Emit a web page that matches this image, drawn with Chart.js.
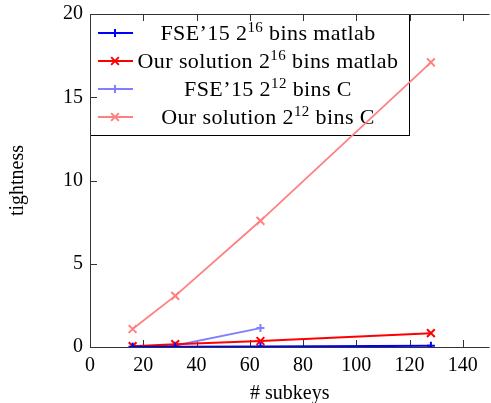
<!DOCTYPE html>
<html>
<head>
<meta charset="utf-8">
<script src="https://cdn.jsdelivr.net/npm/chart.js@4"></script>
<style>
  html, body { margin: 0; padding: 0; background: #fff; overflow: hidden; }
  #wrap { width: 497px; height: 403px; }
</style>
</head>
<body>
<div id="wrap"><canvas id="chart"></canvas></div>
<script>
// values
var subkeys = [16, 32, 64, 128];
var fseMatlab = [0.02, 0.02, 0.03, 0.07];
var oursMatlab = [0.05, 0.17, 0.36, 0.83];
var fseC = [0.02, 0.09, 1.14];          // C run stops at 64 subkeys
var oursC = [1.08, 3.07, 7.58, 17.1];
var seriesNames = [
    "FSE\u201915 2^16 bins matlab",
    "Our solution 2^16 bins matlab",
    "FSE\u201915 2^12 bins C",
    "Our solution 2^12 bins C"
];
var xTicks = [0, 20, 40, 60, 80, 100, 120, 140];
var yTicks = [0, 5, 10, 15, 20];

var serif = "'Liberation Serif', 'DejaVu Serif', serif";

function toPoints(ys) {
    return ys.map(function(y, i) { return { x: subkeys[i], y: y }; });
}

function makeSet(label, ys, color, style, width) {
    var r = style === 'cross' ? 4 : 5.5;
    return {
        label: label,
        data: toPoints(ys),
        borderColor: color,
        backgroundColor: color,
        borderWidth: width,
        pointStyle: style,
        pointRadius: r,
        pointBorderWidth: 2,
        pointHoverRadius: r,
        tension: 0,
        fill: false
    };
}

function drawMarker(ctx, style, x, y, r) {
    ctx.beginPath();
    if (style === 'cross') {
        ctx.moveTo(x - r, y); ctx.lineTo(x + r, y);
        ctx.moveTo(x, y - r); ctx.lineTo(x, y + r);
    } else {
        var d = r * 0.7;
        ctx.moveTo(x - d, y - d); ctx.lineTo(x + d, y + d);
        ctx.moveTo(x - d, y + d); ctx.lineTo(x + d, y - d);
    }
    ctx.stroke();
}

// label text with "^nn" turned into a raised smaller number
function drawRich(ctx, text, cx, cy) {
    var parts = text.split(/\^(\d+)/);
    var big = "22px " + serif, small = "15px " + serif;
    ctx.letterSpacing = '0.4px';
    var total = 0;
    parts.forEach(function(p, i) {
        ctx.font = i % 2 ? small : big;
        total += ctx.measureText(p).width;
    });
    var x = cx - total / 2;
    ctx.textAlign = 'left';
    ctx.textBaseline = 'alphabetic';
    ctx.fillStyle = '#000';
    parts.forEach(function(p, i) {
        ctx.font = i % 2 ? small : big;
        ctx.fillText(p, x, cy + 7 - (i % 2 ? 8 : 0));
        x += ctx.measureText(p).width;
    });
    ctx.letterSpacing = '0px';
}

var legendBox = {
    id: 'legendBox',
    beforeDatasetsDraw: function(chart) {
        var ctx = chart.ctx, a = chart.chartArea;
        var x0 = a.left, y0 = a.top, w = 319, h = 121;
        ctx.save();
        ctx.fillStyle = '#fff';
        ctx.fillRect(x0, y0, w, h);
        ctx.strokeStyle = '#000';
        ctx.lineWidth = 1;
        ctx.strokeRect(x0 + 0.5, y0 + 0.5, w, h);
        chart.data.datasets.forEach(function(ds, i) {
            var y = y0 + 19 + i * 28;
            ctx.strokeStyle = ds.borderColor;
            ctx.lineWidth = ds.borderWidth;
            ctx.beginPath();
            ctx.moveTo(x0 + 8, y);
            ctx.lineTo(x0 + 43, y);
            ctx.stroke();
            ctx.lineWidth = 2;
            drawMarker(ctx, ds.pointStyle, x0 + 25, y, ds.pointRadius);
            drawRich(ctx, ds.label, x0 + 178, y);
        });
        ctx.restore();
    }
};

// axis frame with inward ticks, pgfplots style
var frame = {
    id: 'frame',
    beforeDatasetsDraw: function(chart) {
        var ctx = chart.ctx, a = chart.chartArea;
        var xs = chart.scales.x, ys = chart.scales.y;
        ctx.save();
        ctx.strokeStyle = '#333';
        ctx.lineWidth = 1;
        ctx.beginPath();
        ctx.moveTo(a.left + 0.5, a.top + 0.5);
        ctx.lineTo(a.left + 0.5, a.bottom + 0.5);
        ctx.lineTo(a.right, a.bottom + 0.5);
        ctx.moveTo(a.left, a.top + 0.5);
        ctx.lineTo(a.right, a.top + 0.5);
        xTicks.forEach(function(t) {
            var px = Math.round(xs.getPixelForValue(t)) + 0.5;
            ctx.moveTo(px, a.bottom); ctx.lineTo(px, a.bottom - 7);
            ctx.moveTo(px, a.top); ctx.lineTo(px, a.top + 7);
        });
        yTicks.forEach(function(t) {
            var py = Math.round(ys.getPixelForValue(t)) + 0.5;
            ctx.moveTo(a.left, py); ctx.lineTo(a.left + 7, py);
        });
        ctx.stroke();
        ctx.restore();
    }
};

Chart.defaults.font.family = serif;
Chart.defaults.font.size = 20;
Chart.defaults.color = '#000';

new Chart(document.getElementById('chart'), {
    type: 'line',
    data: {
        datasets: [
            makeSet(seriesNames[0], fseMatlab, '#0000ff', 'cross', 2),
            makeSet(seriesNames[1], oursMatlab, '#ff0000', 'crossRot', 2),
            makeSet(seriesNames[2], fseC, '#8080ff', 'cross', 1.8),
            makeSet(seriesNames[3], oursC, '#ff8080', 'crossRot', 1.8)
        ]
    },
    options: {
        responsive: true,
        maintainAspectRatio: false,
        animation: false,
        layout: { padding: { top: 14, right: 0, left: 0, bottom: 0 } },
        plugins: {
            legend: { display: false },
            tooltip: { enabled: false }
        },
        scales: {
            x: {
                type: 'linear',
                min: 0,
                max: 150,
                afterBuildTicks: function(scale) {
                    scale.ticks = xTicks.map(function(v) { return { value: v }; });
                },
                afterFit: function(scale) { scale.height = 56; },
                grid: { display: false, drawTicks: true, tickLength: 7 },
                border: { display: false },
                ticks: { padding: 0, maxRotation: 0 },
                title: { display: true, text: '# subkeys', padding: { top: 0, bottom: -3 } }
            },
            y: {
                min: 0,
                max: 20,
                afterBuildTicks: function(scale) {
                    scale.ticks = yTicks.map(function(v) { return { value: v }; });
                },
                afterFit: function(scale) { scale.width = 90; },
                grid: { display: false, drawTicks: true, tickLength: 7 },
                border: { display: false },
                ticks: { padding: 0 },
                title: { display: true, text: 'tightness', padding: { top: 6, bottom: 0 } }
            }
        }
    },
    plugins: [legendBox, frame]
});
</script>
</body>
</html>
